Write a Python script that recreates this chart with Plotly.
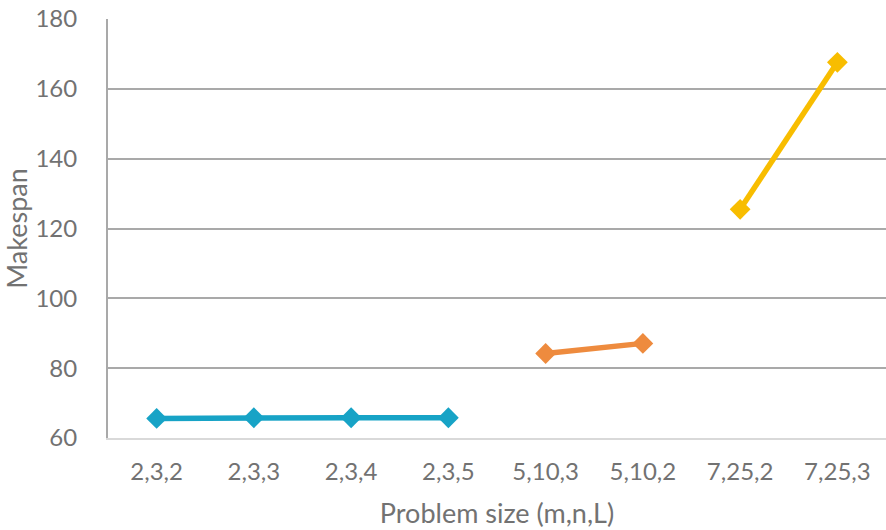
import plotly.graph_objects as go

categories = ["2,3,2", "2,3,3", "2,3,4", "2,3,5", "5,10,3", "5,10,2", "7,25,2", "7,25,3"]

small_x = ["2,3,2", "2,3,3", "2,3,4", "2,3,5"]
small_y = [65.6, 65.8, 65.8, 65.8]

medium_x = ["5,10,3", "5,10,2"]
medium_y = [84.2, 87.1]

large_x = ["7,25,2", "7,25,3"]
large_y = [125.5, 167.6]

series = [
    (small_x, small_y, "#17a3c6"),
    (medium_x, medium_y, "#ee8b3e"),
    (large_x, large_y, "#f8bd00"),
]

fig = go.Figure()
for xs, ys, color in series:
    fig.add_trace(go.Scatter(
        x=xs, y=ys, mode="lines+markers",
        line=dict(color=color, width=5.5),
        marker=dict(symbol="diamond", size=16, color=color),
        showlegend=False,
    ))

font_family = "Lato, 'Open Sans', sans-serif"
grey_text = "#727272"

fig.update_layout(
    width=886, height=530,
    margin=dict(l=108, r=0, t=19, b=92, autoexpand=False),
    paper_bgcolor="white", plot_bgcolor="white",
    font=dict(family=font_family, color=grey_text, size=24),
)
fig.update_xaxes(
    type="category", categoryorder="array", categoryarray=categories,
    range=[-0.5, len(categories) - 0.5],
    showgrid=False, showline=True, linecolor="#d9d9d9", linewidth=2,
    ticks="", ticklabelstandoff=11,
    tickfont=dict(size=24, color=grey_text),
    title=dict(text="Problem size (m,n,L)", font=dict(size=27, color=grey_text), standoff=20),
)
fig.update_yaxes(
    range=[60, 180], dtick=20,
    showgrid=True, gridcolor="#a9a9a9", gridwidth=2,
    showline=True, linecolor="#a9a9a9", linewidth=2,
    zeroline=False, ticks="", ticklabelstandoff=24,
    tickfont=dict(size=24, color=grey_text),
    title=dict(text="Makespan", font=dict(size=27, color=grey_text), standoff=14),
)

fig.write_html("out.html")
